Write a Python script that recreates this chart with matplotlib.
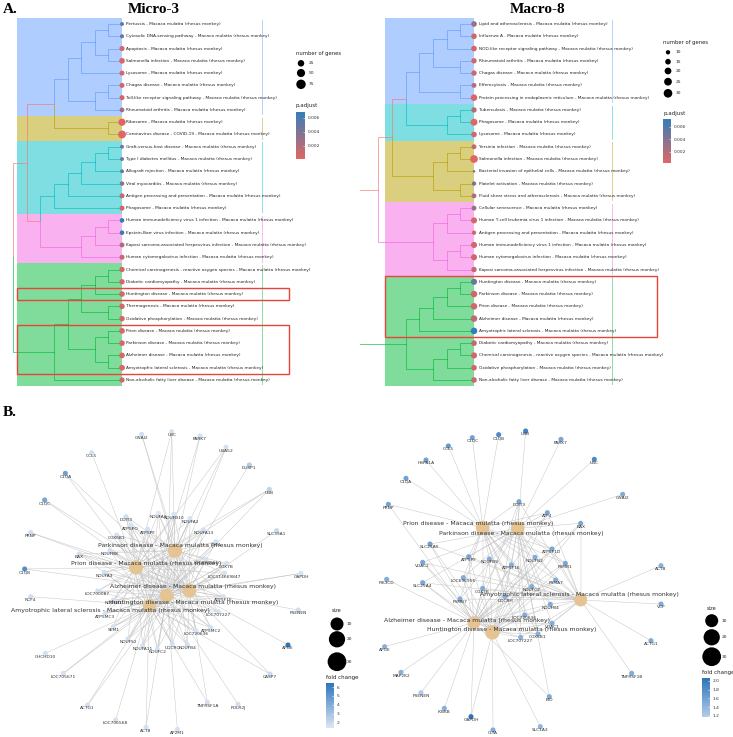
import numpy as np
import matplotlib
matplotlib.use("Agg")
import matplotlib.pyplot as plt
from matplotlib.colors import LinearSegmentedColormap, Normalize
from matplotlib.patches import Rectangle
from matplotlib.cm import ScalarMappable

W, H = 733, 737
SUFFIX = " - Macaca mulatta (rhesus monkey)"

# ---------------- panel A data ----------------
micro_terms = ["Pertussis", "Cytosolic DNA-sensing pathway", "Apoptosis", "Salmonella infection",
               "Lysosome", "Chagas disease", "Toll-like receptor signaling pathway", "Rheumatoid arthritis",
               "Ribosome", "Coronavirus disease - COVID-19", "Graft-versus-host disease",
               "Type I diabetes mellitus", "Allograft rejection", "Viral myocarditis",
               "Antigen processing and presentation", "Phagosome",
               "Human immunodeficiency virus 1 infection", "Epstein-Barr virus infection",
               "Kaposi sarcoma-associated herpesvirus infection", "Human cytomegalovirus infection",
               "Chemical carcinogenesis - reactive oxygen species", "Diabetic cardiomyopathy",
               "Huntington disease", "Thermogenesis", "Oxidative phosphorylation", "Prion disease",
               "Parkinson disease", "Alzheimer disease", "Amyotrophic lateral sclerosis",
               "Non-alcoholic fatty liver disease"]
micro_groups = ["blue"] * 8 + ["yellow"] * 2 + ["cyan"] * 6 + ["pink"] * 4 + ["green"] * 10
micro_count = [3, 4, 11, 16, 10, 10, 10, 8, 35, 45, 3, 3, 3, 6, 10, 10, 7, 7, 9, 10,
               13, 13, 15, 14, 14, 16, 15, 16, 17, 12]
micro_padj = [0.005, 0.0045, 0.0005, 0.0003, 0.0005, 0.0008, 0.0008, 0.0025, 0.0002, 0.00014,
              0.0045, 0.0045, 0.0045, 0.003, 0.001, 0.0008, 0.0069, 0.0066, 0.0022, 0.0012,
              0.0005, 0.0005, 0.0006, 0.0006, 0.0005, 0.0003, 0.0004, 0.0004, 0.0004, 0.0008]
# clades written as (left, right, merge level)
mi_blue = ((((0, 1, 1), (2, 3, 1), 2), 4, 3), ((5, 6, 1), 7, 2), 4)
mi_by = (mi_blue, (8, 9, 1), 5)
mi_cyan = (((((10, 11, 1), 12, 2), 13, 3), 14, 4), 15, 5)
mi_pink = (((16, 17, 1), 18, 2), 19, 3)
mi_top = (mi_by, (mi_cyan, mi_pink, 6), 7)
mi_green = (((((20, 21, 1), 22, 2), (23, 24, 1), 3), ((25, 26, 1), (27, 28, 1), 2), 4), 29, 5)
micro_tree = (mi_top, mi_green, 8)
micro_boxes = [(22, 22), (25, 28)]

macro_terms = ["Lipid and atherosclerosis", "Influenza A", "NOD-like receptor signaling pathway",
               "Rheumatoid arthritis", "Chagas disease", "Efferocytosis",
               "Protein processing in endoplasmic reticulum", "Tuberculosis", "Phagosome", "Lysosome",
               "Yersinia infection", "Salmonella infection", "Bacterial invasion of epithelial cells",
               "Platelet activation", "Fluid shear stress and atherosclerosis", "Cellular senescence",
               "Human T-cell leukemia virus 1 infection", "Antigen processing and presentation",
               "Human immunodeficiency virus 1 infection", "Human cytomegalovirus infection",
               "Kaposi sarcoma-associated herpesvirus infection", "Huntington disease",
               "Parkinson disease", "Prion disease", "Alzheimer disease", "Amyotrophic lateral sclerosis",
               "Diabetic cardiomyopathy", "Chemical carcinogenesis - reactive oxygen species",
               "Oxidative phosphorylation", "Non-alcoholic fatty liver disease"]
macro_groups = ["blue"] * 7 + ["cyan"] * 3 + ["yellow"] * 5 + ["pink"] * 6 + ["green"] * 9
macro_count = [15, 15, 15, 14, 14, 12, 19, 14, 21, 15, 12, 25, 5, 10, 12, 12, 17, 10, 17, 17,
               14, 17, 19, 19, 19, 19, 15, 17, 15, 15]
macro_padj = [0.003, 0.0008, 0.0008, 0.0008, 0.0008, 0.002, 0.0005, 0.002, 0.0003, 0.0005,
              0.0015, 0.00012, 0.0045, 0.0045, 0.002, 0.003, 0.0008, 0.001, 0.0008, 0.0008,
              0.0015, 0.0048, 0.0008, 0.0008, 0.0015, 0.0073, 0.0015, 0.0008, 0.0008, 0.001]
ma_blue = ((((0, 1, 1), 2, 2), (3, 4, 1), 3), (5, 6, 1), 4)
ma_bc = (ma_blue, ((7, 8, 1), 9, 2), 5)
ma_yellow = (((10, 11, 1), 12, 2), (13, 14, 1), 3)
ma_pink = (((15, 16, 1), 17, 2), ((18, 19, 1), 20, 2), 3)
ma_top = ((ma_bc, ma_yellow, 6), ma_pink, 7)
ma_green = (((((21, 22, 1), 23, 2), 24, 3), 25, 4), (((26, 27, 1), 28, 2), 29, 3), 5)
macro_tree = (ma_top, ma_green, 9)
macro_boxes = [(21, 25)]

# ---------------- panel B data ----------------
mi_dis = ["Parkinson disease", "Prion disease", "Alzheimer disease", "Huntington disease",
          "Amyotrophic lateral sclerosis"]
mi_dx = [525, 408, 568, 500, 448]
mi_dy = [452, 502, 572, 587, 617]
mi_dsize = [13, 13, 12, 12, 10]
mi_lx = [540, 440, 580, 580, 330]
mi_ly = [438, 490, 560, 608, 632]

mi_genes = ["GNAI2", "UBC", "PARK7", "UBA52", "DUSP1", "UBB", "CCL5", "C1QA", "C1QC", "PRNP", "C1QB",
            "NCF4", "CHCHD10", "LOC705671", "ACTG1", "LOC706568", "ACTB", "AP2M1", "TNFRSF1A", "POLR2J",
            "CASP7", "APOE", "PSENEN", "GAPDH", "SLC39A1", "DDIT3", "NDUFA1", "NDUFB10", "NDUFA2",
            "NDUFA13", "ATP5PO", "ATP5PF", "CYC1", "COX6B1", "NDUFB8", "BAX", "LOC696956", "COX7B",
            "NDUFA3", "LOC114669847", "LOC700087", "ATP5F1E", "NDUFB1", "ATP5MC3", "LOC707227", "SEM1",
            "NDUFS2", "ATP5MC2", "LOC720636", "NDUFA11", "UQCRQ", "NDUFC2", "NDUFB4"]
mi_gx = [425, 515, 600, 678, 748, 808, 275, 196, 134, 92, 74, 92, 136, 190, 263, 347, 438, 532,
         622, 714, 810, 864, 895, 903, 830, 378, 475, 522, 570, 610, 392, 443, 648, 350, 330, 238,
         618, 680, 313, 673, 293, 670, 340, 315, 655, 340, 384, 632, 588, 428, 517, 472, 562]
mi_gy = [103, 95, 108, 142, 195, 268, 158, 220, 300, 398, 507, 590, 760, 820, 915, 960, 982, 988,
         907, 913, 822, 735, 630, 520, 392, 350, 340, 343, 356, 390, 378, 388, 425, 405, 452, 462,
         478, 490, 517, 520, 573, 590, 600, 640, 635, 680, 717, 683, 693, 737, 733, 747, 735]
mi_fc = [1.8, 1.6, 1.6, 1.7, 2.6, 2.2, 1.7, 4.6, 4.3, 1.8, 5.4, 1.8, 1.7, 1.6, 1.7, 1.6, 1.7, 1.6,
         1.7, 1.7, 1.9, 6.42, 1.8, 1.6, 1.9, 1.8, 1.37, 1.6, 1.6, 1.7, 1.6, 1.7, 1.6, 1.6, 1.7, 1.7,
         1.6, 1.6, 1.7, 1.6, 1.7, 1.6, 1.6, 1.7, 1.6, 1.6, 1.7, 1.6, 1.6, 1.7, 1.6, 1.6, 1.7]
mi_links = ["02", "013", "04", "013", "3", "013", "1", "12", "12", "12", "12", "4", "4", "34", "34",
            "4", "34", "3", "24", "3", "24", "2", "2", "23", "2"] + ["01234"] * 28

ma_dis = ["Prion disease", "Parkinson disease", "Amyotrophic lateral sclerosis", "Alzheimer disease",
          "Huntington disease"]
ma_dx = [338, 443, 632, 312, 367]
ma_dy = [383, 385, 600, 668, 697]
ma_dsize = [12, 12, 10, 10, 14]
ma_lx = [326, 455, 627, 290, 424]
ma_ly = [372, 400, 583, 662, 687]

ma_genes = ["UBB", "C1QC", "C1QB", "PARK7", "CCL5", "HSPA1A", "UBC", "C1QA", "GNAI2", "PRNP", "DDIT3",
            "ATF4", "BAX", "SLC25A5", "ATP5F1D", "VDAC2", "ATP5PF", "NDUFB2", "NDUFB9", "ATP5F1E",
            "PSMB1", "ACTB", "PIK3CD", "SLC25A4", "LOC696956", "COX7B", "PSMA7", "NDUFC2", "PSMB7",
            "UQCRH", "VCP", "NDUFB4", "LOC720636", "VDAC1", "COX6B1", "LOC707227", "ACTG1", "APOE",
            "MAP2K2", "TNFRSF1B", "PSENEN", "BID", "IKBKB", "GAPDH", "SLC1A3", "CLTA"]
ma_gx = [467, 307, 386, 573, 235, 168, 673, 108, 758, 55, 447, 532, 632, 180, 546, 158, 296, 495,
         358, 424, 586, 873, 50, 158, 280, 338, 557, 485, 270, 405, 873, 541, 464, 546, 504, 452,
         843, 44, 93, 785, 153, 538, 223, 303, 511, 369]
ma_gy = [93, 113, 104, 118, 138, 180, 178, 235, 283, 313, 305, 338, 370, 432, 447, 487, 470, 472,
         477, 495, 490, 497, 538, 548, 533, 565, 540, 560, 597, 590, 612, 613, 645, 670, 702, 712,
         722, 740, 817, 820, 878, 890, 925, 950, 980, 990]
ma_fc = [1.9, 1.6, 1.85, 1.55, 1.7, 1.6, 1.85, 1.6, 1.5, 1.6, 1.55, 1.55, 1.55, 1.6, 1.55, 1.55,
         1.55, 1.5, 1.5, 1.5, 1.55, 1.45, 1.5, 1.55, 1.5, 1.5, 1.5, 1.5, 1.5, 1.45, 1.5, 1.5, 1.5,
         1.5, 1.45, 1.45, 1.5, 1.45, 1.45, 1.5, 1.18, 1.5, 1.45, 2.07, 1.4, 1.5]
ma_links = ["1", "0", "0", "1", "0", "0", "1", "0", "1", "03", "01234", "01234", "1234", "1234",
            "01234", "1234", "01234", "01234", "01234", "01234", "01234", "2", "3", "1234", "01234",
            "01234", "01234", "01234", "01234", "01234", "2", "01234", "01234", "1234", "01234",
            "01234", "2", "3", "3", "2", "3", "13", "3", "34", "4", "4"]

# ---------------- styles ----------------
group_col = {"blue": "#619CFF", "yellow": "#B79F00", "cyan": "#00BFC4", "pink": "#F564E3",
             "green": "#00BA38"}
cross_col = "#F8766D"
padj_cmap = LinearSegmentedColormap.from_list("padj", ["#e06663", "#327eba"])
mi_fc_cmap = LinearSegmentedColormap.from_list("fc1", ["#DDE7F5", "#2F76BB"])
ma_fc_cmap = LinearSegmentedColormap.from_list("fc2", ["#B2CBEC", "#2B72B8"])
SERIF = "Liberation Serif"

fig = plt.figure(figsize=(W / 100, H / 100), dpi=100)


def px_axes(x0, y0, x1, y1):
    ax = fig.add_axes([x0 / W, 1 - y1 / H, (x1 - x0) / W, (y1 - y0) / H])
    ax.set_axis_off()
    return ax


def pt2(d_px):
    return (d_px * 0.78) ** 2


def draw_tree(ax, node, groups):
    if isinstance(node, int):
        return node, 0, {groups[node]}
    left, right, lev = node
    kids = [draw_tree(ax, left, groups), draw_tree(ax, right, groups)]
    y = (kids[0][0] + kids[1][0]) / 2
    for cy, clev, cg in kids:
        col = group_col[next(iter(cg))] if len(cg) == 1 else cross_col
        ax.plot([-lev, -lev, -clev], [y, cy, cy], color=col, lw=0.55, alpha=0.8, zorder=2)
    return y, lev, kids[0][2] | kids[1][2]


def tree_panel(terms, groups, counts, padj, tree, boxes, leaf_px, ppl, left_lev,
               shade_left, bar_x, box_right, size_a, size_b):
    top, bot = 17.86, 386.14
    ax = px_axes(leaf_px - left_lev * ppl, top, leaf_px, bot)
    n = len(terms)
    ax.set_xlim(-left_lev, 0)
    ax.set_ylim(n - 0.5, -0.5)
    # clade highlights and side bars
    start = 0
    for i in range(1, n + 1):
        if i == n or groups[i] != groups[start]:
            c = group_col[groups[start]]
            ax.add_patch(Rectangle((shade_left, start - 0.5), -shade_left, i - start,
                                   facecolor=c, alpha=0.5, lw=0, zorder=1, clip_on=False))
            ax.plot([bar_x, bar_x], [start - 0.35, i - 1 + 0.35], color=c, alpha=0.45,
                    lw=0.7, clip_on=False)
            start = i
    draw_tree(ax, tree, groups)
    norm = Normalize(min(padj), max(padj))
    d = size_a * np.sqrt(np.array(counts)) + size_b
    ax.scatter(np.zeros(n), np.arange(n), s=pt2(d), c=padj, cmap=padj_cmap, norm=norm,
               lw=0, zorder=4, clip_on=False)
    for i, t in enumerate(terms):
        ax.text(0.33, i, t + SUFFIX, fontsize=3.1, va="center", ha="left", color="#222222",
                clip_on=False)
    for a, b in boxes:
        ax.add_patch(Rectangle((shade_left, a - 0.5), box_right - shade_left, b - a + 1,
                               fill=False, edgecolor="#E8443A", lw=1.0, zorder=5, clip_on=False))
    return norm


micro_norm = tree_panel(micro_terms, micro_groups, micro_count, micro_padj, micro_tree, micro_boxes,
                        122, 13.625, 8.3, -7.71, 10.25, 12.26, 0.738, 2.31)
macro_norm = tree_panel(macro_terms, macro_groups, macro_count, macro_padj, macro_tree, macro_boxes,
                        474, 13.7, 8.32, -6.5, 10.07, 13.36, 1.72, -1.45)


def network(rect, xlim, genes, gx, gy, fc, links, dis, dx, dy, dsize, lx, ly, cmap):
    ax = px_axes(*rect)
    ax.set_xlim(0, xlim)
    ax.set_ylim(1011, 0)
    for i in range(len(genes)):
        for k in links[i]:
            j = int(k)
            ax.plot([gx[i], dx[j]], [gy[i], dy[j]], color="#C0C0C0", lw=0.35, alpha=0.9, zorder=1)
    norm = Normalize(min(fc), max(fc))
    ax.scatter(dx, dy, s=pt2(2.29 * np.sqrt(np.array(dsize)) + 4.76), color="#E5C494", lw=0,
               zorder=2)
    ax.scatter(gx, gy, s=pt2(4.7), c=fc, cmap=cmap, norm=norm, lw=0, zorder=3)
    for i, g in enumerate(genes):
        ax.text(gx[i], gy[i] + 10, g, fontsize=3.2, ha="center", va="center", color="#333333",
                zorder=4)
    for j, nm in enumerate(dis):
        ax.text(lx[j], ly[j], nm + SUFFIX, fontsize=4.4, ha="center", va="center",
                color="#333333", zorder=5)
    return norm


mi_norm = network((0, 400, 370, 737), 1110, mi_genes, mi_gx, mi_gy, mi_fc, mi_links, mi_dis,
                  mi_dx, mi_dy, mi_dsize, mi_lx, mi_ly, mi_fc_cmap)
ma_norm = network((370, 400, 733, 737), 1089, ma_genes, ma_gx, ma_gy, ma_fc, ma_links, ma_dis,
                  ma_dx, ma_dy, ma_dsize, ma_lx, ma_ly, ma_fc_cmap)

# ---------------- overlay: titles and legends ----------------
ov = px_axes(0, 0, W, H)
ov.set_xlim(0, W)
ov.set_ylim(H, 0)
ov.text(3, 9, "A.", fontsize=11, fontweight="bold", family=SERIF, va="center", ha="left")
ov.text(3, 412, "B.", fontsize=11, fontweight="bold", family=SERIF, va="center", ha="left")
ov.text(154, 9, "Micro-3", fontsize=11, fontweight="bold", family=SERIF, va="center", ha="center")
ov.text(538, 9, "Macro-8", fontsize=11, fontweight="bold", family=SERIF, va="center", ha="center")

size_keys_mi = [25, 50, 75]
size_keys_ma = [10, 15, 20, 25, 30]
net_keys = [10, 20, 30]


def size_legend(x, y_title, ys, keys, a, b, title, fs_title=3.8, lab_dx=8):
    ov.text(x - 5, y_title, title, fontsize=fs_title, va="center", ha="left", color="#222222")
    d = a * np.sqrt(np.array(keys, float)) + b
    ov.scatter([x] * len(keys), ys, s=pt2(d), color="black", lw=0)
    for k, yy in zip(keys, ys):
        ov.text(x + lab_dx, yy, str(k), fontsize=3.2, va="center", ha="left", color="#222222")


def cbar(x0, y0, x1, y1, norm, cmap, ticks, fmt, title, ty):
    ov.text(x0, ty, title, fontsize=4.0, va="center", ha="left", color="#222222")
    cax = fig.add_axes([x0 / W, 1 - y1 / H, (x1 - x0) / W, (y1 - y0) / H])
    cb = fig.colorbar(ScalarMappable(norm=norm, cmap=cmap), cax=cax, ticks=ticks)
    cb.outline.set_visible(False)
    cb.ax.set_yticklabels([fmt.format(t) for t in ticks])
    cax.tick_params(length=1.5, width=0.4, color="white", direction="in", labelsize=3.2, pad=2,
                    labelcolor="#333333")


size_legend(301, 53, [63.3, 73, 84.3], size_keys_mi, 0.738, 2.31, "number of genes")
cbar(296, 111.7, 305, 159, micro_norm, padj_cmap, [0.002, 0.004, 0.006], "{:.3f}", "p.adjust", 105.7)
size_legend(668, 42.7, [52.3, 61.7, 71, 81.7, 93.3], size_keys_ma, 1.72, -1.45, "number of genes")
cbar(663, 118.7, 671, 163.3, macro_norm, padj_cmap, [0.002, 0.004, 0.006], "{:.3f}", "p.adjust", 113.3)

size_legend(337, 610.7, [624, 639.3, 661.7], net_keys, 2.29, 4.76, "size", fs_title=3.6, lab_dx=10)
cbar(326, 683.3, 334.3, 728.3, mi_norm, mi_fc_cmap, [2, 3, 4, 5, 6], "{:d}", "fold change", 678)
size_legend(711.7, 609, [620.7, 637.3, 656.7], net_keys, 2.29, 4.76, "size", fs_title=3.6, lab_dx=10)
cbar(701.7, 677.7, 710, 716.7, ma_norm, ma_fc_cmap, [1.2, 1.4, 1.6, 1.8, 2.0], "{:.1f}",
     "fold change", 672.7)

fig.savefig("out.png", dpi=100)
